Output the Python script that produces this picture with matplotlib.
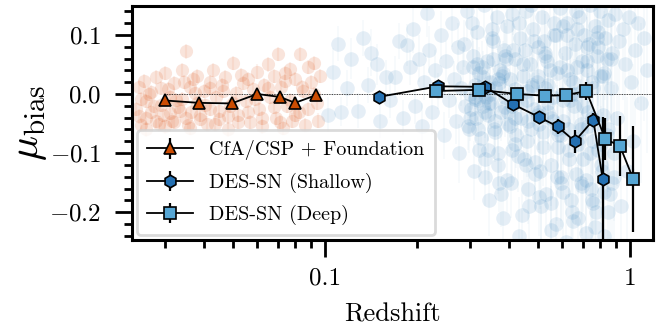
import numpy as np
import matplotlib
matplotlib.use("Agg")
import matplotlib.pyplot as plt
from matplotlib.ticker import MultipleLocator, FixedLocator, NullFormatter

plt.rcParams["font.family"] = "serif"
plt.rcParams["font.serif"] = ["cmr10"]
plt.rcParams["mathtext.fontset"] = "cm"
plt.rcParams["axes.formatter.use_mathtext"] = True

# ------------------------------------------------------------------
# Individual low-z SNe (CfA/CSP + Foundation)
# ------------------------------------------------------------------
z_lowz = [0.0245, 0.0245, 0.025, 0.0255, 0.026, 0.026, 0.027, 0.027, 0.028, 0.028,
          0.029, 0.029, 0.030, 0.030, 0.031, 0.031, 0.032, 0.032, 0.033, 0.034,
          0.034, 0.035, 0.035, 0.036, 0.036, 0.037, 0.038, 0.038, 0.039, 0.040,
          0.041, 0.042, 0.042, 0.043, 0.044, 0.045, 0.046, 0.047, 0.048, 0.049,
          0.050, 0.051, 0.052, 0.053, 0.055, 0.056, 0.057, 0.058, 0.060, 0.061,
          0.062, 0.063, 0.065, 0.066, 0.068, 0.069, 0.070, 0.072, 0.073, 0.074,
          0.075, 0.077, 0.078, 0.080, 0.082, 0.083, 0.085, 0.086, 0.088, 0.090,
          0.092, 0.094, 0.096,
          0.0240, 0.0250, 0.0260, 0.0265, 0.0275, 0.0285, 0.0295, 0.0305, 0.0315,
          0.0325, 0.0335, 0.0345, 0.0355, 0.0365, 0.0375, 0.0390, 0.0405, 0.0420,
          0.0435, 0.0450, 0.0465, 0.0480, 0.0500, 0.0520, 0.0540, 0.0560, 0.0590,
          0.0620, 0.0650, 0.0680, 0.0710, 0.0740, 0.0770, 0.0800, 0.0840, 0.0880,
          0.0920, 0.0950]
mu_lowz = [0.012, -0.038, -0.052, 0.022, -0.012, -0.060, 0.004, -0.030, 0.028, -0.045,
           -0.018, 0.010, -0.055, 0.035, -0.005, -0.032, 0.018, -0.048, -0.022, 0.040,
           -0.008, 0.072, -0.040, 0.012, -0.058, 0.025, -0.015, 0.030, -0.035, 0.005,
           -0.050, 0.020, -0.025, 0.040, -0.005, -0.042, 0.015, 0.028, -0.060, -0.020,
           0.052, 0.002, -0.035, 0.032, -0.012, 0.025, -0.048, 0.008, 0.038, -0.025,
           -0.055, 0.015, 0.050, -0.005, 0.030, -0.040, 0.068, 0.012, -0.058, 0.035,
           -0.020, 0.042, -0.045, 0.025, -0.030, 0.068, 0.005, -0.052, 0.045, 0.020,
           0.052, -0.015, 0.030,
           -0.025, -0.008, -0.040, 0.000, -0.020, -0.050, -0.035, 0.008, -0.045,
           -0.010, -0.028, 0.020, -0.052, -0.030, 0.002, -0.042, -0.018, 0.010,
           -0.050, -0.028, 0.005, -0.038, -0.015, -0.048, 0.018, -0.030, -0.008,
           -0.040, 0.010, -0.022, -0.048, 0.022, -0.010, -0.035, 0.012, -0.025,
           0.000, -0.045]

# ------------------------------------------------------------------
# Individual DES-SN events
# ------------------------------------------------------------------
z_des = [0.102, 0.106, 0.110, 0.113, 0.118, 0.122, 0.128, 0.133, 0.138, 0.142,
         0.148, 0.152, 0.158, 0.163, 0.170, 0.175, 0.180, 0.186, 0.190, 0.194,
         0.198, 0.203, 0.208, 0.212, 0.216, 0.220, 0.225, 0.230, 0.235, 0.240,
         0.245, 0.250, 0.255, 0.260, 0.264, 0.268, 0.272, 0.276, 0.280, 0.284,
         0.288, 0.292, 0.296, 0.300, 0.302, 0.305, 0.308, 0.310, 0.313, 0.316,
         0.318, 0.321, 0.324, 0.327, 0.330, 0.333, 0.336, 0.339, 0.342, 0.345,
         0.348, 0.351, 0.355, 0.358, 0.362, 0.366, 0.370, 0.374, 0.378, 0.382,
         0.386, 0.390, 0.395, 0.399, 0.403, 0.407, 0.411, 0.415, 0.419, 0.423,
         0.427, 0.432, 0.436, 0.440, 0.445, 0.450, 0.455, 0.460, 0.465, 0.470,
         0.475, 0.480, 0.485, 0.490, 0.495, 0.500, 0.505, 0.510, 0.515, 0.520,
         0.525, 0.530, 0.535, 0.540, 0.546, 0.552, 0.558, 0.564, 0.570, 0.576,
         0.582, 0.588, 0.594, 0.599, 0.605, 0.611, 0.617, 0.623, 0.629, 0.635,
         0.641, 0.647, 0.653, 0.659, 0.665, 0.671, 0.677, 0.683, 0.689, 0.695,
         0.702, 0.709, 0.716, 0.723, 0.730, 0.737, 0.744, 0.751, 0.758, 0.765,
         0.772, 0.780, 0.788, 0.796, 0.805, 0.813, 0.821, 0.830, 0.839, 0.848,
         0.857, 0.866, 0.875, 0.884, 0.893, 0.905, 0.918, 0.932, 0.945, 0.960,
         0.975, 0.990, 1.005, 1.020, 1.040, 1.060, 1.085, 1.110, 1.140,
         0.310, 0.322, 0.335, 0.347, 0.360, 0.372, 0.388, 0.405, 0.420, 0.438,
         0.458, 0.478, 0.498, 0.518, 0.538, 0.560, 0.580, 0.602, 0.625, 0.650,
         0.675, 0.700, 0.728, 0.755, 0.785, 0.815,
         0.305, 0.318, 0.330, 0.342, 0.356, 0.368, 0.382, 0.396, 0.412, 0.428,
         0.446, 0.464, 0.484, 0.506, 0.528, 0.550, 0.572, 0.596, 0.620, 0.645,
         0.670, 0.696, 0.722, 0.750, 0.778, 0.808, 0.840, 0.870,
         0.345, 0.380, 0.420, 0.460, 0.505, 0.548, 0.592, 0.640, 0.690, 0.742,
         0.795, 0.850,
         0.285, 0.295, 0.303, 0.311, 0.319, 0.327, 0.335, 0.343, 0.352, 0.361,
         0.370, 0.379, 0.389, 0.399, 0.409, 0.419, 0.430, 0.441, 0.452, 0.463,
         0.475, 0.487, 0.499, 0.511, 0.524, 0.537, 0.550, 0.563, 0.577, 0.591,
         0.605, 0.620, 0.635, 0.650, 0.666, 0.682, 0.698, 0.715, 0.732, 0.750,
         0.768, 0.786, 0.805, 0.824, 0.844, 0.864, 0.885,
         0.298, 0.316, 0.334, 0.352, 0.371, 0.391, 0.411, 0.433, 0.455, 0.478,
         0.502, 0.527, 0.552, 0.578, 0.605, 0.633, 0.662, 0.692, 0.723, 0.755,
         0.788, 0.822]
mu_des = [-0.035, 0.037, 0.085, -0.030, 0.010, 0.060, -0.028, 0.095, 0.015, 0.070,
          0.050, -0.045, 0.028, -0.010, 0.029, 0.090, -0.040, 0.083, 0.045, 0.110,
          -0.020, 0.060, -0.055, 0.020, 0.137, 0.075, -0.030, 0.040, 0.005, 0.100,
          -0.070, 0.055, -0.010, 0.120, 0.025, -0.045, 0.080, -0.100, 0.010, 0.045,
          -0.020, 0.140, -0.060, 0.000, -0.025, 0.065, -0.130, 0.015, -0.040, 0.105,
          -0.010, 0.035, -0.075, 0.005, -0.020, 0.150, -0.005, 0.055, -0.035, -0.180,
          0.020, -0.015, 0.090, -0.060, 0.010, 0.130, -0.100, 0.040, -0.030, -0.210,
          0.075, -0.005, 0.115, -0.050, 0.025, -0.150, -0.020, 0.160, 0.060, -0.070,
          0.000, -0.240, 0.095, -0.040, 0.030, -0.110, 0.140, -0.010, -0.190, 0.050,
          -0.060, 0.110, -0.025, -0.135, 0.020, 0.080, -0.050, -0.260, 0.130, -0.090,
          0.010, -0.170, 0.055, -0.030, 0.165, -0.120, -0.005, 0.100, -0.220, 0.035,
          -0.070, 0.145, -0.150, 0.000, -0.045, 0.070, -0.250, 0.120, -0.095, 0.025,
          -0.180, 0.160, -0.020, 0.085, -0.135, 0.045, -0.210, 0.130, -0.060, 0.005,
          -0.110, 0.100, -0.235, 0.055, -0.030, 0.150, -0.160, 0.020, -0.080, 0.115,
          -0.200, 0.065, -0.050, 0.140, -0.120, 0.030, -0.240, 0.095, -0.070, 0.125,
          -0.170, 0.010, 0.070, -0.100, 0.135, -0.040, 0.090, -0.190, 0.110, 0.050,
          -0.130, 0.130, 0.020, -0.080, 0.075, 0.120, -0.015, 0.095, 0.040,
          -0.008, 0.012, -0.030, 0.000, -0.045, 0.018, -0.022, -0.055, 0.008, -0.015,
          -0.080, 0.012, -0.035, -0.065, 0.015, -0.045, -0.090, -0.010, -0.060, 0.020,
          -0.085, -0.020, -0.055, 0.010, -0.095, -0.035,
          0.045, -0.060, 0.028, -0.095, 0.060, -0.120, 0.035, -0.145, 0.075, -0.105,
          0.050, -0.160, 0.090, -0.130, 0.065, -0.185, 0.100, -0.140, 0.040, -0.200,
          0.110, -0.155, 0.080, -0.180, 0.095, -0.130, 0.060, -0.150,
          -0.015, 0.030, -0.040, 0.005, -0.030, 0.040, -0.070, 0.000, -0.050, -0.100,
          0.030, -0.060,
          0.085, -0.055, 0.120, -0.005, -0.095, 0.045, -0.140, 0.010, 0.110, -0.065,
          0.025, -0.170, 0.065, -0.030, 0.135, -0.085, 0.000, -0.205, 0.075, -0.045,
          0.150, -0.115, 0.030, -0.190, 0.090, -0.015, -0.230, 0.120, -0.060, 0.045,
          -0.165, 0.100, -0.010, -0.215, 0.140, -0.075, 0.055, -0.145, 0.085, -0.040,
          -0.225, 0.105, -0.085, 0.035, -0.200, 0.060, -0.140,
          -0.040, 0.050, -0.110, 0.095, -0.150, 0.060, -0.095, 0.120, -0.120, 0.015,
          -0.175, 0.070, -0.040, -0.140, 0.115, -0.110, 0.000, -0.150, 0.040, -0.185,
          0.080, -0.165]
err_des = [0.030, 0.040, 0.030, 0.025, 0.030, 0.035, 0.030, 0.030, 0.030, 0.040,
           0.035, 0.030, 0.030, 0.030, 0.035, 0.030, 0.030, 0.035, 0.030, 0.040,
           0.030, 0.040, 0.040, 0.030, 0.040, 0.040, 0.040, 0.035, 0.030, 0.040,
           0.040, 0.035, 0.030, 0.040, 0.030, 0.040, 0.040, 0.050, 0.030, 0.035,
           0.030, 0.050, 0.040, 0.040, 0.040, 0.045, 0.050, 0.040, 0.040, 0.050,
           0.040, 0.045, 0.050, 0.040, 0.040, 0.055, 0.040, 0.045, 0.045, 0.060,
           0.045, 0.045, 0.050, 0.050, 0.045, 0.055, 0.055, 0.050, 0.050, 0.060,
           0.050, 0.050, 0.055, 0.050, 0.050, 0.060, 0.050, 0.060, 0.055, 0.055,
           0.050, 0.065, 0.055, 0.055, 0.055, 0.060, 0.060, 0.055, 0.065, 0.060,
           0.060, 0.060, 0.060, 0.065, 0.060, 0.060, 0.060, 0.070, 0.065, 0.065,
           0.060, 0.070, 0.065, 0.065, 0.070, 0.070, 0.065, 0.070, 0.075, 0.070,
           0.070, 0.075, 0.075, 0.070, 0.075, 0.075, 0.080, 0.080, 0.080, 0.075,
           0.080, 0.085, 0.080, 0.080, 0.085, 0.085, 0.090, 0.085, 0.085, 0.085,
           0.090, 0.090, 0.095, 0.090, 0.090, 0.095, 0.095, 0.090, 0.095, 0.095,
           0.100, 0.095, 0.100, 0.100, 0.100, 0.100, 0.110, 0.105, 0.105, 0.110,
           0.110, 0.110, 0.110, 0.115, 0.115, 0.115, 0.120, 0.120, 0.120, 0.125,
           0.125, 0.125, 0.130, 0.130, 0.130, 0.135, 0.135, 0.140, 0.140,
           0.040, 0.040, 0.045, 0.045, 0.045, 0.050, 0.050, 0.050, 0.055, 0.055,
           0.060, 0.060, 0.060, 0.065, 0.065, 0.070, 0.070, 0.075, 0.075, 0.080,
           0.085, 0.085, 0.090, 0.095, 0.100, 0.100,
           0.045, 0.045, 0.045, 0.050, 0.050, 0.050, 0.055, 0.055, 0.055, 0.060,
           0.060, 0.060, 0.065, 0.065, 0.070, 0.070, 0.075, 0.075, 0.080, 0.080,
           0.085, 0.085, 0.090, 0.090, 0.095, 0.100, 0.105, 0.110,
           0.045, 0.050, 0.055, 0.060, 0.065, 0.070, 0.075, 0.080, 0.085, 0.090,
           0.095, 0.105,
           0.040, 0.040, 0.045, 0.045, 0.045, 0.045, 0.050, 0.050, 0.050, 0.050,
           0.055, 0.055, 0.055, 0.055, 0.060, 0.060, 0.060, 0.060, 0.065, 0.065,
           0.065, 0.065, 0.070, 0.070, 0.070, 0.070, 0.075, 0.075, 0.075, 0.080,
           0.080, 0.080, 0.085, 0.085, 0.085, 0.090, 0.090, 0.090, 0.095, 0.095,
           0.095, 0.100, 0.100, 0.105, 0.105, 0.110, 0.110,
           0.040, 0.045, 0.045, 0.050, 0.050, 0.055, 0.055, 0.060, 0.060, 0.065,
           0.065, 0.070, 0.070, 0.075, 0.075, 0.080, 0.085, 0.085, 0.090, 0.095,
           0.100, 0.105]

# ------------------------------------------------------------------
# Binned mu_bias per sample
# ------------------------------------------------------------------
z_bin_lowz = [0.0299, 0.0386, 0.0494, 0.0600, 0.0712, 0.0798, 0.0934]
mu_bin_lowz = [-0.011, -0.015, -0.016, 0.000, -0.005, -0.015, -0.002]
err_bin_lowz = [0.004, 0.004, 0.004, 0.005, 0.005, 0.010, 0.005]

z_bin_shallow = [0.150, 0.235, 0.335, 0.412, 0.503, 0.579, 0.659, 0.758, 0.814]
mu_bin_shallow = [-0.005, 0.013, 0.012, -0.017, -0.039, -0.055, -0.080, -0.044, -0.144]
err_bin_shallow = [0.003, 0.004, 0.004, 0.005, 0.010, 0.013, 0.019, 0.012, 0.105]

z_bin_deep = [0.231, 0.320, 0.427, 0.526, 0.617, 0.719, 0.830, 0.927, 1.025]
mu_bin_deep = [0.005, 0.007, 0.000, -0.003, -0.002, 0.005, -0.076, -0.088, -0.144]
err_bin_deep = [0.003, 0.004, 0.004, 0.005, 0.006, 0.016, 0.035, 0.050, 0.089]

c_lowz = "#cc4c02"
c_shallow = "#2470b2"
c_deep = "#56a6d4"
c_lowz_bg = "#e0622a"
c_des_bg = "#2b7bba"

fig = plt.figure(figsize=(6.63, 3.27), dpi=100)
ax = fig.add_axes([0.199, 0.266, 0.786, 0.716])

# faint individual SNe in the background: error bars first, then the dots
ax.errorbar(z_lowz, mu_lowz, yerr=0.012, fmt="none", ecolor=c_lowz_bg,
            alpha=0.08, elinewidth=1.5, zorder=1)
ax.plot(z_lowz, mu_lowz, "o", ms=9.5, color=c_lowz_bg, mec="none",
        alpha=0.17, zorder=1)
ax.errorbar(z_des, mu_des, yerr=err_des, fmt="none", ecolor=c_des_bg,
            alpha=0.035, elinewidth=1.5, zorder=1)
ax.plot(z_des, mu_des, "o", ms=10.5, color=c_des_bg, mec="none",
        alpha=0.12, zorder=1)

# zero reference
ax.hlines(0, z_bin_lowz[0], 2.0, colors="k", linestyles=(0, (1, 1)),
          linewidth=0.6, zorder=2)

common = dict(color="k", ecolor="k", elinewidth=1.6, capsize=0, lw=1.3,
              mec="k", mew=1.2, zorder=5)
ax.errorbar(z_bin_lowz, mu_bin_lowz, yerr=err_bin_lowz, marker="^", ms=9,
            mfc=c_lowz, label="CfA/CSP + Foundation", **common)
ax.errorbar(z_bin_shallow, mu_bin_shallow, yerr=err_bin_shallow, marker="h",
            ms=9, mfc=c_shallow, label="DES-SN (Shallow)", **common)
ax.errorbar(z_bin_deep, mu_bin_deep, yerr=err_bin_deep, marker="s", ms=9,
            mfc=c_deep, label="DES-SN (Deep)", **common)

ax.set_xscale("log")
ax.set_xlim(0.0233, 1.19)
ax.set_ylim(-0.247, 0.149)

ax.set_xticks([0.1, 1.0])
ax.set_xticklabels(["0.1", "1"])
ax.xaxis.set_minor_locator(FixedLocator([0.03, 0.04, 0.05, 0.06, 0.07, 0.08, 0.09,
                                         0.2, 0.3, 0.4, 0.5, 0.6, 0.7, 0.8, 0.9]))
ax.xaxis.set_minor_formatter(NullFormatter())
ax.yaxis.set_major_locator(MultipleLocator(0.1))
ax.yaxis.set_minor_locator(MultipleLocator(0.02))

ax.tick_params(which="major", direction="out", length=12, width=2,
               labelsize=18, top=False, right=False)
ax.tick_params(which="minor", direction="out", length=5.5, width=2,
               top=False, right=False)
ax.tick_params(axis="x", which="major", pad=8)
ax.tick_params(axis="y", which="major", pad=10)
for sp in ax.spines.values():
    sp.set_linewidth(2.2)

ax.set_xlabel("Redshift", fontsize=19, labelpad=9)
ax.set_ylabel(r"$\mu_{\rm bias}$", fontsize=30, labelpad=0)

leg = ax.legend(loc="lower left", fontsize=14.5, frameon=True, fancybox=True,
                borderaxespad=0.25, borderpad=0.5, handlelength=2.3,
                handletextpad=0.8, labelspacing=0.6)
leg.get_frame().set_edgecolor("0.82")
leg.get_frame().set_linewidth(2)

fig.savefig("out.png", dpi=100)
